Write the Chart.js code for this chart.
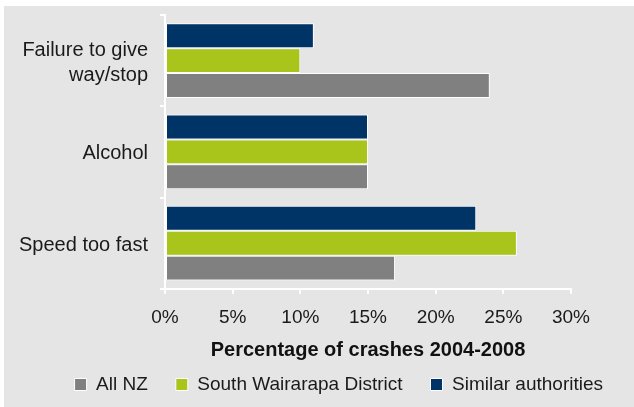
<!DOCTYPE html>
<html>
<head>
<meta charset="utf-8">
<script src="https://cdn.jsdelivr.net/npm/chart.js@4"></script>
<style>
    html, body { margin: 0; padding: 0; background: #ffffff; overflow: hidden; }
    #crashChart { position: absolute; left: 4px; top: 6px; }
</style>
</head>
<body>
<canvas id="crashChart" width="630" height="401"></canvas>
<script>
// Crash factor data (percent of crashes 2004-2008)
const categories = [['Failure to give', 'way/stop'], 'Alcohol', 'Speed too fast'];
const similarAuthorities = [11, 15, 23];
const southWairarapa = [10, 15, 26];
const allNZ = [24, 15, 17];
const xTicks = [0, 5, 10, 15, 20, 25, 30];

const FONT = '"Liberation Sans", Arial, sans-serif';
const TEXT = '#1a1a1a';
const LEGEND_H = 60;

// grey panel behind everything
const panelBg = {
    id: 'panelBg',
    beforeDraw(chart) {
        const ctx = chart.ctx;
        ctx.save();
        ctx.fillStyle = '#e5e5e5';
        ctx.fillRect(0, 0, chart.width, chart.height);
        ctx.restore();
    }
};

// keep the legend strip a fixed height
const legendHeight = {
    id: 'legendHeight',
    beforeLayout(chart) {
        const lg = chart.legend;
        if (lg && !lg._fixed) {
            const fit = lg.fit;
            lg.fit = function() {
                fit.call(this);
                this.height = LEGEND_H;
            };
            lg._fixed = true;
        }
    }
};

const ctx = document.getElementById('crashChart').getContext('2d');
new Chart(ctx, {
    type: 'bar',
    data: {
        labels: categories,
        datasets: [
            {
                label: 'Similar authorities',
                data: similarAuthorities,
                backgroundColor: '#003366',
                borderColor: '#ffffff',
                borderWidth: 1,
                borderSkipped: false
            },
            {
                label: 'South Wairarapa District',
                data: southWairarapa,
                backgroundColor: '#a9c41a',
                borderColor: '#ffffff',
                borderWidth: 1,
                borderSkipped: false
            },
            {
                label: 'All NZ',
                data: allNZ,
                backgroundColor: '#808080',
                borderColor: '#ffffff',
                borderWidth: 1,
                borderSkipped: false
            }
        ]
    },
    options: {
        indexAxis: 'y',
        responsive: false,
        animation: false,
        devicePixelRatio: 1,
        categoryPercentage: 0.82,
        barPercentage: 1.0,
        layout: { padding: { top: 9, right: 3, left: 0, bottom: 0 } },
        plugins: {
            legend: {
                position: 'bottom',
                align: 'end',
                reverse: true,
                labels: {
                    boxWidth: 12,
                    boxHeight: 12,
                    padding: 28,
                    color: TEXT,
                    font: { family: FONT, size: 19 }
                }
            },
            tooltip: { enabled: false }
        },
        scales: {
            x: {
                min: 0,
                max: 30,
                afterBuildTicks: function(scale) {
                    scale.ticks = xTicks.map(v => ({ value: v }));
                },
                afterFit: function(scale) { scale.height = 58.2; },
                grid: { drawOnChartArea: false, drawTicks: true, tickLength: 5, color: '#ffffff', lineWidth: 2 },
                border: { color: '#ffffff', width: 2 },
                ticks: {
                    padding: 13,
                    color: TEXT,
                    font: { family: FONT, size: 19 },
                    callback: function(value) { return value + '%'; }
                },
                title: {
                    display: true,
                    text: 'Percentage of crashes 2004-2008',
                    color: '#111111',
                    font: { family: FONT, size: 20, weight: 'bold' },
                    padding: { top: 0, bottom: -15.3 }
                }
            },
            y: {
                afterFit: function(scale) {
                    scale.width = 161;
                    scale.paddingTop = 0;
                    scale.paddingBottom = 0;
                },
                grid: { drawOnChartArea: false, drawTicks: true, tickLength: 5, color: '#ffffff', lineWidth: 2 },
                border: { color: '#ffffff', width: 2 },
                ticks: {
                    padding: 12,
                    labelOffset: 2,
                    color: TEXT,
                    font: { family: FONT, size: 20, lineHeight: 1.25 }
                }
            },
            // empty strip on the right of the plot
            yGap: {
                type: 'linear',
                axis: 'y',
                position: 'right',
                grid: { display: false },
                border: { display: false },
                ticks: { display: false },
                afterFit: function(scale) { scale.width = 60; }
            }
        }
    },
    plugins: [panelBg, legendHeight]
});
</script>
</body>
</html>
